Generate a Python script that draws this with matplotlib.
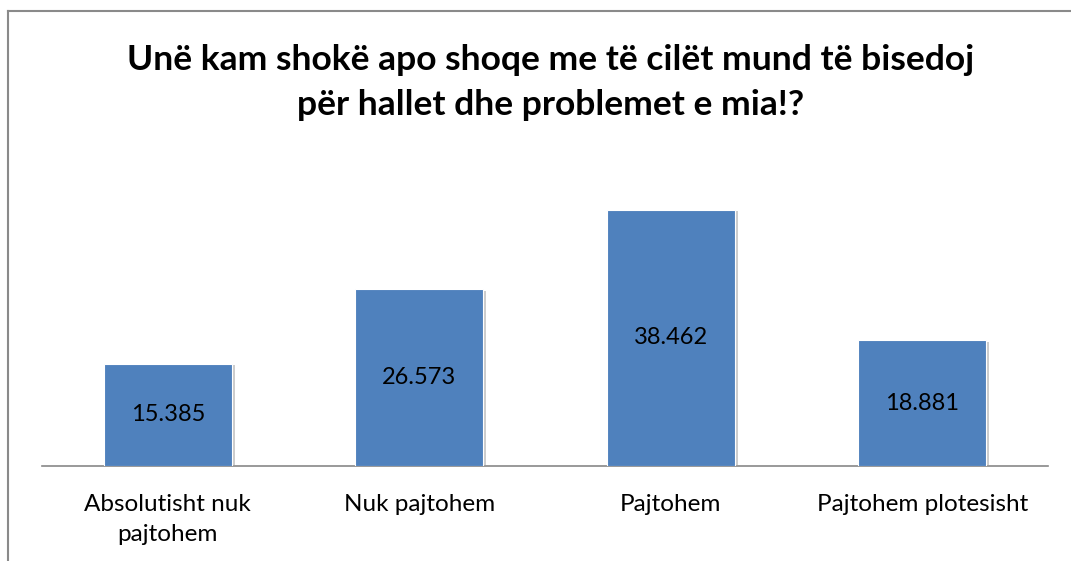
import matplotlib
matplotlib.use("Agg")
import matplotlib.pyplot as plt
import matplotlib.patheffects as pe
from matplotlib.lines import Line2D

categories = ["Absolutisht nuk\npajtohem", "Nuk pajtohem", "Pajtohem", "Pajtohem plotesisht"]
values = [15.385, 26.573, 38.462, 18.881]
value_labels = ["15.385", "26.573", "38.462", "18.881"]
title = "Unë kam shokë apo shoqe me të cilët mund të bisedoj\npër hallet dhe problemet e mia!?"

W, H = 1071, 561
fig = plt.figure(figsize=(W / 100, H / 100), dpi=100)
plt.rcParams['font.family'] = ['Lato', 'DejaVu Sans']

# axes: x from 42 to 1048 px, bottom at 466 px
ax_left, ax_right = 42 / W, 1048 / W
ax_bottom = 1 - 466 / H
ymax = 45
px_per_unit = 256 / 38.462
ax_top = 1 - (466 - ymax * px_per_unit) / H
ax = fig.add_axes([ax_left, ax_bottom, ax_right - ax_left, ax_top - ax_bottom])

bars = ax.bar(range(len(values)), values, width=0.51, color="#4F81BD",
              edgecolor="white", linewidth=0.8, zorder=3)
for b in bars:
    b.set_path_effects([pe.SimplePatchShadow(offset=(2, -1), shadow_rgbFace="#9a9a9a", alpha=0.5), pe.Normal()])

for i, (v, lab) in enumerate(zip(values, value_labels)):
    ax.text(i, v / 2, lab, ha="center", va="center", fontsize=17, color="black", zorder=4)

ax.set_xlim(-0.5, len(values) - 0.5)
ax.set_ylim(0, ymax)
for s in ["left", "right", "top"]:
    ax.spines[s].set_visible(False)
ax.spines["bottom"].set_color("#888888")
ax.spines["bottom"].set_linewidth(1.2)
ax.set_yticks([])
ax.set_xticks(range(len(values)))
ax.set_xticklabels(categories, fontsize=17.5, linespacing=1.55)
ax.tick_params(axis="x", length=0, pad=20)

fig.text(0.5145, 1 - 82.5 / H, title, ha="center", va="center", fontsize=25.5,
         fontweight="bold", linespacing=1.5)

# outer chart frame (left & top edges)
fig.add_artist(Line2D([8 / W, 8 / W], [0, 1 - 11 / H], color="#8a8a8a", lw=1.5, transform=fig.transFigure))
fig.add_artist(Line2D([8 / W, 1], [1 - 11 / H, 1 - 11 / H], color="#8a8a8a", lw=1.5, transform=fig.transFigure))

fig.savefig("out.png", dpi=100)
